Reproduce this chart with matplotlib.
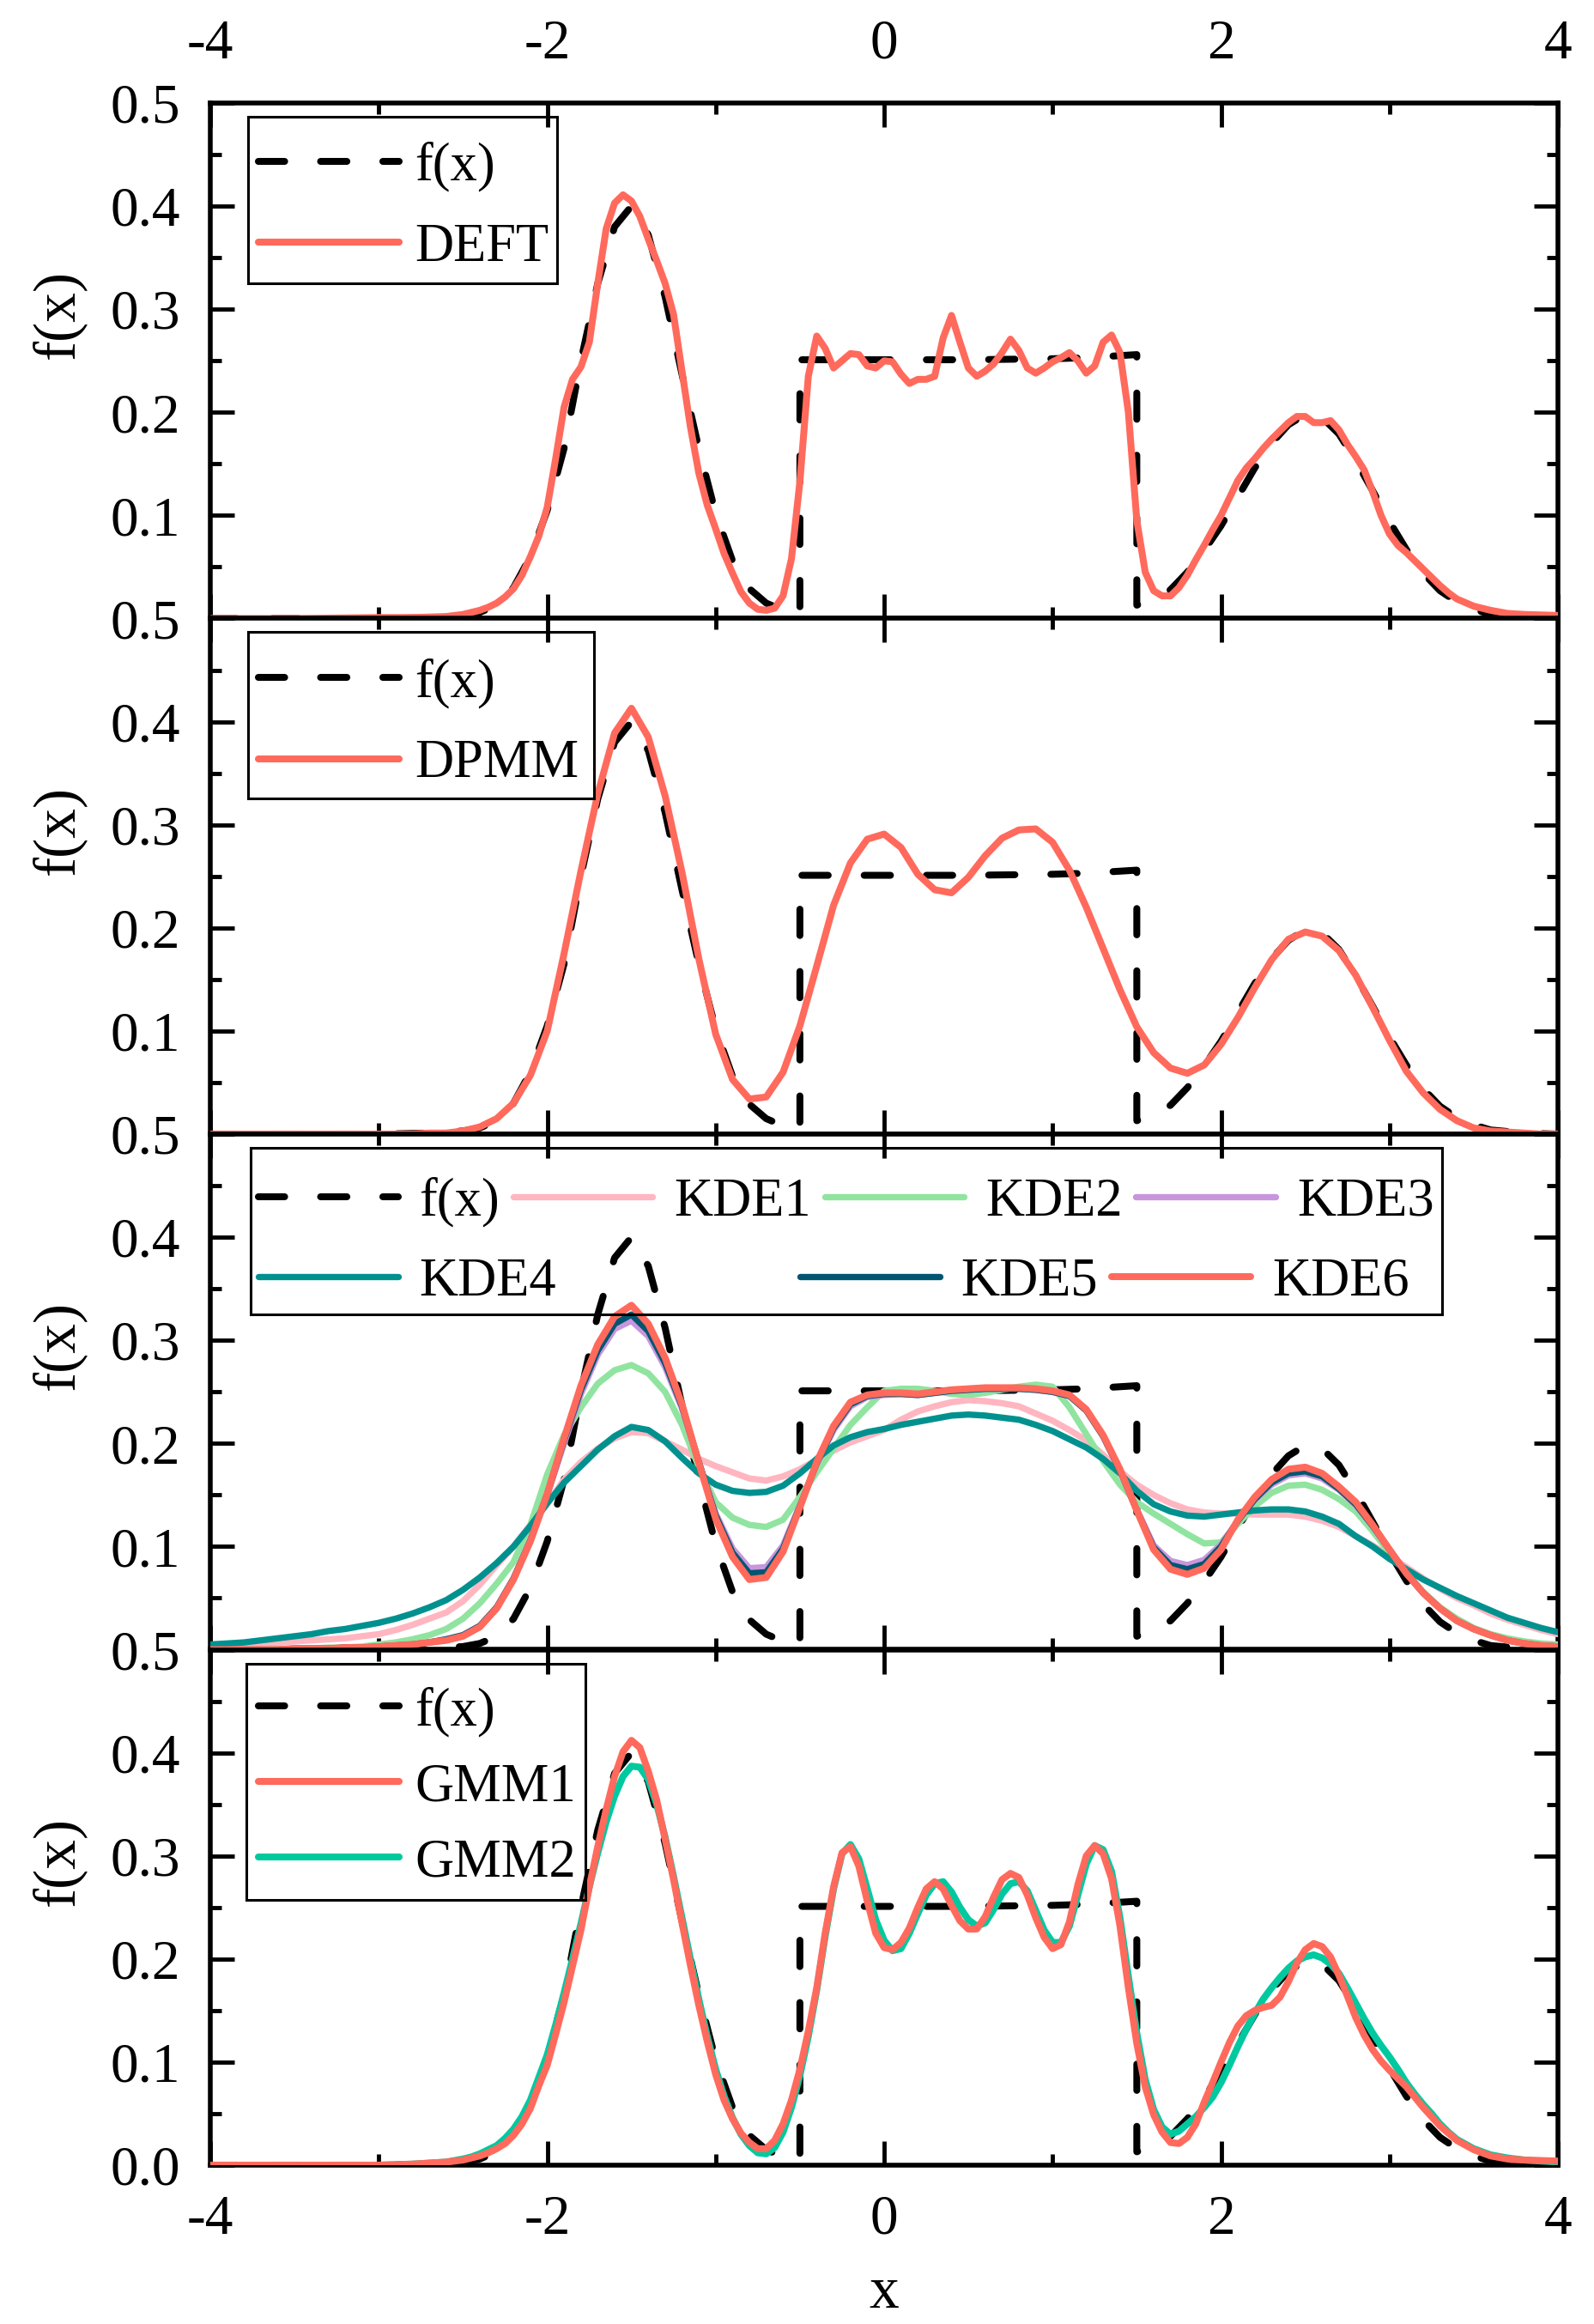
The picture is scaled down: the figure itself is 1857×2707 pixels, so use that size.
import numpy as np
import matplotlib
matplotlib.use('Agg')
import matplotlib.pyplot as plt
from matplotlib.patches import Rectangle

plt.rcParams['font.family'] = ['Liberation Serif', 'DejaVu Serif']
plt.rcParams['axes.unicode_minus'] = False

# ---------------- data ----------------
# true density f(x)
F_X = [-4.0, -3.0, -2.7, -2.5, -2.4, -2.3, -2.2, -2.1, -2.0, -1.9, -1.8, -1.7, -1.6, -1.5,
       -1.4, -1.3, -1.2, -1.1, -1.0, -0.9, -0.8, -0.7, -0.6, -0.5, -0.5, 0.0, 0.5, 1.0, 1.2,
       1.4, 1.5, 1.5, 1.6, 1.7, 1.8, 1.9, 2.0, 2.1, 2.2, 2.3, 2.4, 2.5, 2.6, 2.7, 2.8, 2.9,
       3.0, 3.1, 3.2, 3.3, 3.4, 3.5, 3.6, 3.8, 4.0]
F_Y = [0.0, 0.0, 0.001, 0.003, 0.006, 0.013, 0.03, 0.06, 0.105, 0.165, 0.25, 0.325, 0.38, 0.40,
       0.372, 0.312, 0.237, 0.165, 0.102, 0.056, 0.029, 0.015, 0.008, 0.005, 0.251, 0.251, 0.251,
       0.252, 0.253, 0.255, 0.256, 0.013, 0.018, 0.028, 0.045, 0.066, 0.09, 0.118, 0.146, 0.17,
       0.188, 0.198, 0.195, 0.179, 0.153, 0.124, 0.094, 0.067, 0.044, 0.027, 0.016, 0.009, 0.004,
       0.001, 0.0]

# fine x grid (DEFT, GMM)
FINE_X = [-4.0, -3.5, -3.0, -2.8, -2.6] + list(np.round(np.arange(-2.5, 3.401, 0.05), 2)) + [3.5, 3.6, 3.7, 3.8, 4.0]

DEFT_Y = [0.0, 0.0, 0.001, 0.001, 0.002,
          0.004, 0.006, 0.008, 0.011, 0.015, 0.021, 0.029, 0.042, 0.06, 0.08,
          0.108, 0.155, 0.205, 0.232, 0.244, 0.268, 0.325, 0.378, 0.403, 0.411,
          0.405, 0.39, 0.368, 0.347, 0.325, 0.295, 0.24, 0.186, 0.141, 0.11,
          0.087, 0.063, 0.044, 0.026, 0.015, 0.009, 0.008, 0.01, 0.022, 0.058,
          0.133, 0.235, 0.274, 0.262, 0.243, 0.25, 0.257, 0.256, 0.245, 0.243,
          0.25, 0.249, 0.237, 0.228, 0.232, 0.232, 0.235, 0.272, 0.294, 0.268,
          0.243, 0.235, 0.24, 0.247, 0.258, 0.271, 0.26, 0.243, 0.238, 0.243,
          0.249, 0.253, 0.258, 0.25, 0.238, 0.245, 0.268, 0.275, 0.258, 0.2,
          0.095, 0.045, 0.027, 0.022, 0.022, 0.03, 0.042, 0.057, 0.071, 0.086,
          0.1, 0.117, 0.134, 0.146, 0.155, 0.165, 0.174, 0.182, 0.19, 0.196,
          0.196, 0.19, 0.19, 0.192, 0.183, 0.169, 0.157, 0.144, 0.123, 0.1,
          0.082, 0.071, 0.064, 0.056, 0.048, 0.04, 0.032, 0.025, 0.019,
          0.012, 0.008, 0.005, 0.004, 0.003]

GMM1_Y = [0.0, 0.0, 0.0, 0.001, 0.003,
          0.005, 0.007, 0.009, 0.012, 0.016, 0.021, 0.029, 0.04, 0.055, 0.077,
          0.097, 0.127, 0.158, 0.193, 0.228, 0.27, 0.309, 0.345, 0.377, 0.401,
          0.412, 0.405, 0.382, 0.354, 0.316, 0.277, 0.235, 0.194, 0.155, 0.12,
          0.088, 0.063, 0.045, 0.031, 0.022, 0.016, 0.016, 0.024, 0.04, 0.063,
          0.093, 0.13, 0.172, 0.225, 0.27, 0.303, 0.309, 0.29, 0.256, 0.225,
          0.211, 0.209, 0.216, 0.23, 0.25, 0.268, 0.275, 0.268, 0.252, 0.237,
          0.229, 0.229, 0.241, 0.26, 0.277, 0.283, 0.279, 0.262, 0.24, 0.221,
          0.21, 0.214, 0.236, 0.272, 0.3, 0.31, 0.302, 0.278, 0.232, 0.172,
          0.118, 0.076, 0.049, 0.032, 0.022, 0.021, 0.027, 0.04, 0.061, 0.08,
          0.1, 0.119, 0.135, 0.145, 0.15, 0.153, 0.155, 0.163, 0.178, 0.196,
          0.209, 0.215, 0.212, 0.202, 0.184, 0.164, 0.143, 0.126, 0.112, 0.101,
          0.092, 0.084, 0.076, 0.066, 0.056, 0.047, 0.038, 0.031, 0.024,
          0.015, 0.009, 0.006, 0.005, 0.004]

GMM2_Y = [0.0, 0.0, 0.0, 0.001, 0.003,
          0.006, 0.008, 0.011, 0.015, 0.019, 0.026, 0.035, 0.047, 0.063, 0.085,
          0.107, 0.136, 0.167, 0.2, 0.234, 0.27, 0.303, 0.333, 0.358, 0.377,
          0.387, 0.386, 0.374, 0.35, 0.318, 0.28, 0.24, 0.2, 0.161, 0.125,
          0.093, 0.067, 0.046, 0.03, 0.019, 0.012, 0.011, 0.017, 0.032, 0.056,
          0.087, 0.125, 0.17, 0.222, 0.268, 0.302, 0.311, 0.297, 0.268, 0.238,
          0.218, 0.208, 0.21, 0.225, 0.244, 0.262, 0.273, 0.275, 0.265, 0.25,
          0.238, 0.232, 0.235, 0.248, 0.263, 0.273, 0.275, 0.266, 0.247, 0.228,
          0.216, 0.216, 0.232, 0.262, 0.292, 0.31, 0.306, 0.285, 0.24, 0.183,
          0.128, 0.083, 0.054, 0.037, 0.03, 0.033, 0.04, 0.047, 0.056, 0.066,
          0.08, 0.097, 0.115, 0.132, 0.147, 0.161, 0.172, 0.182, 0.191, 0.198,
          0.202, 0.204, 0.201, 0.195, 0.186, 0.172, 0.157, 0.142, 0.128, 0.116,
          0.105, 0.093, 0.08, 0.069, 0.059, 0.05, 0.04, 0.032, 0.025,
          0.016, 0.01, 0.007, 0.005, 0.003]

# coarse x grid (DPMM, KDE): -4.0 ... 4.0 in steps of 0.1
GRID_X = list(np.round(np.arange(-4.0, 4.001, 0.1), 1))

DPMM_Y = [0.0, 0.0, 0.0, 0.0, 0.0, 0.0, 0.0, 0.0, 0.0, 0.0, 0.0, 0.0,
          0.0, 0.001, 0.001, 0.003, 0.007, 0.015, 0.03, 0.057, 0.1, 0.175,
          0.255, 0.33, 0.389, 0.413, 0.385, 0.328, 0.254, 0.17, 0.097, 0.053,
          0.034, 0.036, 0.06, 0.105, 0.163, 0.222, 0.263, 0.286, 0.291, 0.278,
          0.252, 0.237, 0.234, 0.249, 0.27, 0.287, 0.295, 0.296, 0.283, 0.256,
          0.22, 0.18, 0.14, 0.104, 0.079, 0.064, 0.059, 0.067, 0.087, 0.113,
          0.142, 0.169, 0.189, 0.196, 0.192, 0.178, 0.154, 0.123, 0.091, 0.061,
          0.04, 0.024, 0.013, 0.006, 0.003, 0.002, 0.001, 0.0, 0.0]

KDE1_Y = [0.003, 0.004, 0.005, 0.006, 0.007, 0.008, 0.009, 0.01, 0.011, 0.013, 0.015, 0.019,
          0.024, 0.03, 0.036, 0.047, 0.063, 0.082, 0.1, 0.121, 0.141, 0.165,
          0.182, 0.195, 0.205, 0.211, 0.21, 0.202, 0.194, 0.185, 0.178, 0.172,
          0.166, 0.164, 0.168, 0.175, 0.184, 0.193, 0.201, 0.207, 0.213, 0.223,
          0.231, 0.236, 0.24, 0.242, 0.241, 0.239, 0.236, 0.229, 0.222, 0.213,
          0.203, 0.189, 0.173, 0.16, 0.15, 0.142, 0.136, 0.133, 0.132, 0.132,
          0.131, 0.131, 0.131, 0.129, 0.125, 0.119, 0.11, 0.101, 0.091, 0.08,
          0.069, 0.059, 0.05, 0.043, 0.035, 0.029, 0.024, 0.019, 0.015]

KDE2_Y = [0.0, 0.0, 0.0, 0.0, 0.001, 0.001, 0.001, 0.002, 0.002, 0.003, 0.005, 0.007,
          0.01, 0.014, 0.02, 0.03, 0.045, 0.064, 0.085, 0.121, 0.17, 0.208,
          0.235, 0.258, 0.271, 0.276, 0.268, 0.25, 0.218, 0.177, 0.143, 0.128,
          0.121, 0.119, 0.126, 0.148, 0.172, 0.195, 0.218, 0.235, 0.251, 0.253,
          0.253, 0.251, 0.248, 0.247, 0.249, 0.252, 0.255, 0.257, 0.255, 0.235,
          0.209, 0.183, 0.16, 0.143, 0.132, 0.122, 0.112, 0.103, 0.104, 0.122,
          0.139, 0.152, 0.159, 0.16, 0.155, 0.146, 0.134, 0.115, 0.094, 0.075,
          0.056, 0.041, 0.03, 0.021, 0.015, 0.011, 0.008, 0.006, 0.005]

KDE3_Y = [0.0, 0.0, 0.0, 0.0, 0.0, 0.001, 0.001, 0.001, 0.002, 0.002, 0.003, 0.004,
          0.005, 0.007, 0.01, 0.014, 0.023, 0.041, 0.069, 0.106, 0.15, 0.2,
          0.248, 0.286, 0.311, 0.319, 0.304, 0.274, 0.234, 0.182, 0.132, 0.098,
          0.079, 0.08, 0.101, 0.14, 0.18, 0.213, 0.236, 0.245, 0.247, 0.248,
          0.247, 0.249, 0.251, 0.252, 0.253, 0.253, 0.253, 0.252, 0.25, 0.246,
          0.232, 0.207, 0.174, 0.136, 0.101, 0.086, 0.082, 0.087, 0.102, 0.125,
          0.145, 0.16, 0.169, 0.171, 0.166, 0.155, 0.14, 0.12, 0.097, 0.074,
          0.055, 0.04, 0.028, 0.02, 0.014, 0.009, 0.006, 0.004, 0.003]

KDE4_Y = [0.005, 0.006, 0.007, 0.009, 0.011, 0.013, 0.015, 0.018, 0.02, 0.023, 0.026, 0.03,
          0.035, 0.041, 0.048, 0.058, 0.07, 0.084, 0.1, 0.12, 0.142, 0.162,
          0.178, 0.194, 0.207, 0.216, 0.213, 0.202, 0.186, 0.171, 0.16, 0.154,
          0.152, 0.153, 0.159, 0.171, 0.185, 0.198, 0.206, 0.211, 0.214, 0.218,
          0.221, 0.224, 0.227, 0.228, 0.227, 0.225, 0.223, 0.218, 0.212, 0.204,
          0.196, 0.185, 0.171, 0.154, 0.141, 0.134, 0.13, 0.129, 0.131, 0.133,
          0.135, 0.136, 0.136, 0.134, 0.129, 0.122, 0.11, 0.1, 0.088, 0.078,
          0.068, 0.06, 0.052, 0.045, 0.038, 0.031, 0.026, 0.021, 0.017]

KDE5_Y = [0.0, 0.0, 0.0, 0.0, 0.0, 0.001, 0.001, 0.001, 0.002, 0.002, 0.003, 0.004,
          0.005, 0.007, 0.01, 0.014, 0.023, 0.041, 0.069, 0.106, 0.151, 0.203,
          0.252, 0.29, 0.316, 0.325, 0.309, 0.278, 0.236, 0.182, 0.13, 0.094,
          0.074, 0.075, 0.098, 0.139, 0.181, 0.215, 0.238, 0.246, 0.248, 0.248,
          0.247, 0.249, 0.251, 0.252, 0.253, 0.253, 0.253, 0.252, 0.25, 0.246,
          0.232, 0.207, 0.174, 0.135, 0.099, 0.082, 0.078, 0.083, 0.1, 0.125,
          0.146, 0.162, 0.171, 0.173, 0.168, 0.156, 0.141, 0.12, 0.097, 0.074,
          0.055, 0.04, 0.028, 0.02, 0.014, 0.009, 0.006, 0.004, 0.003]

KDE6_Y = [0.0, 0.0, 0.0, 0.0, 0.0, 0.001, 0.001, 0.001, 0.002, 0.002, 0.003, 0.004,
          0.005, 0.007, 0.009, 0.013, 0.022, 0.04, 0.068, 0.105, 0.151, 0.205,
          0.256, 0.296, 0.323, 0.334, 0.316, 0.283, 0.238, 0.181, 0.127, 0.09,
          0.068, 0.07, 0.095, 0.138, 0.182, 0.217, 0.24, 0.247, 0.249, 0.249,
          0.248, 0.25, 0.252, 0.253, 0.254, 0.254, 0.254, 0.253, 0.251, 0.247,
          0.233, 0.208, 0.175, 0.135, 0.097, 0.078, 0.073, 0.079, 0.097, 0.126,
          0.148, 0.165, 0.175, 0.177, 0.171, 0.158, 0.143, 0.121, 0.097, 0.074,
          0.055, 0.04, 0.028, 0.02, 0.014, 0.009, 0.006, 0.004, 0.003]

X_TICKS = [-4, -2, 0, 2, 4]
X_LABELS = ['-4', '-2', '0', '2', '4']
Y_TICKS = [0.0, 0.1, 0.2, 0.3, 0.4, 0.5]
Y_LABELS_TOP = ['', '0.1', '0.2', '0.3', '0.4', '0.5']
Y_LABELS_BOTTOM = ['0.0', '0.1', '0.2', '0.3', '0.4', '0.5']

# ---------------- style ----------------
RED = '#FF6A5C'
PINK = '#FFB6C1'
LGREEN = '#90E4A0'
PURPLE = '#C896DC'
TEAL = '#00918F'
NAVY = '#005670'
MINT = '#00C9A0'

LW = 5.8
LW_KDE = 5.3
TICK_FS = 47
LEG_FS = 45
LAB_FS = 50

fig = plt.figure(figsize=(18.57, 27.07), dpi=100)
W, H = 1857.0, 2707.0
left = 245 / W
width = 1570 / W
ph = 600.5 / H
top0 = 1 - 120 / H
axes = [fig.add_axes([left, top0 - (i + 1) * ph, width, ph]) for i in range(4)]


def style_axis(ax, idx):
    ax.set_xlim(-4, 4)
    ax.set_ylim(0, 0.5)
    ax.set_xticks(X_TICKS)
    ax.set_xticks([-3, -1, 1, 3], minor=True)
    ax.set_yticks(Y_TICKS)
    ax.set_yticks([0.05, 0.15, 0.25, 0.35, 0.45], minor=True)
    ax.set_yticklabels(Y_LABELS_BOTTOM if idx == 3 else Y_LABELS_TOP)
    ax.set_xticklabels(X_LABELS)
    ax.tick_params(which='both', direction='in', top=True, right=True,
                   width=3.5, color='black')
    ax.tick_params(which='major', length=20)
    ax.tick_params(which='minor', length=9.5)
    ax.tick_params(axis='y', labelsize=TICK_FS, pad=25)
    ax.tick_params(axis='x', labelsize=TICK_FS)
    if idx == 0:
        ax.tick_params(axis='x', labeltop=True, labelbottom=False, pad=27.5)
    elif idx == 3:
        ax.tick_params(axis='x', labeltop=False, labelbottom=True, pad=24.5)
    else:
        ax.tick_params(axis='x', labeltop=False, labelbottom=False)
    for sp in ax.spines.values():
        sp.set_linewidth(4.0)
        sp.set_color('black')
    ax.set_ylabel('f(x)', fontsize=LAB_FS)
    ax.yaxis.set_label_coords(-0.0925, 0.59)


def plot_f(ax):
    ln, = ax.plot(F_X, F_Y, color='black', lw=LW, linestyle=(0, (3.8, 5.2)),
                  dash_capstyle='round', zorder=2)
    return ln


def curve(ax, x, y, color, lw, z=3):
    ln, = ax.plot(x, y, color=color, lw=lw, solid_capstyle='round',
                  solid_joinstyle='round', zorder=z)
    return ln


def frame(ax, x0, y0, x1, y1):
    ax.add_patch(Rectangle((x0, y0), x1 - x0, y1 - y0, transform=ax.transAxes,
                           fill=False, edgecolor='black', lw=2.2, zorder=5, clip_on=False))


def simple_legend(ax, handles, labels, spacing, yc, box):
    ax.legend(handles, labels, loc='center left', bbox_to_anchor=(0.0357, yc),
              borderaxespad=0, borderpad=0, fontsize=LEG_FS, frameon=False,
              labelspacing=spacing, handlelength=2.62, handletextpad=0.3)
    frame(ax, *box)


# panel 1: DEFT
ax = axes[0]
style_axis(ax, 0)
lf = plot_f(ax)
l1 = curve(ax, FINE_X, DEFT_Y, RED, LW)
simple_legend(ax, [lf, l1], ['f(x)', 'DEFT'], 0.58, 0.798, (0.028, 0.650, 0.2575, 0.9734))

# panel 2: DPMM
ax = axes[1]
style_axis(ax, 1)
lf = plot_f(ax)
l1 = curve(ax, GRID_X, DPMM_Y, RED, LW)
simple_legend(ax, [lf, l1], ['f(x)', 'DPMM'], 0.58, 0.796, (0.028, 0.651, 0.2845, 0.974))

# panel 3: KDE
ax = axes[2]
style_axis(ax, 2)
lf = plot_f(ax)
k1 = curve(ax, GRID_X, KDE1_Y, PINK, LW_KDE)
k2 = curve(ax, GRID_X, KDE2_Y, LGREEN, LW_KDE)
k3 = curve(ax, GRID_X, KDE3_Y, PURPLE, LW_KDE)
k4 = curve(ax, GRID_X, KDE4_Y, TEAL, LW_KDE)
k5 = curve(ax, GRID_X, KDE5_Y, NAVY, LW_KDE)
k6 = curve(ax, GRID_X, KDE6_Y, RED, LW)

common = dict(fontsize=LEG_FS, frameon=False, borderpad=0, borderaxespad=0,
              handlelength=2.6, handletextpad=0.4, columnspacing=0.25, loc='center left')
legA = ax.legend([lf, k1, k2, k3], ['f(x)', 'KDE1', 'KDE2', 'KDE3'], ncol=4,
                 bbox_to_anchor=(0.0357, 0.868), **common)
ax.add_artist(legA)
legB = ax.legend([k4], ['KDE4'], ncol=1, bbox_to_anchor=(0.0357, 0.712), **common)
ax.add_artist(legB)
legC = ax.legend([k5, k6], ['KDE5', 'KDE6'], ncol=2, bbox_to_anchor=(0.4376, 0.712), **common)
frame(ax, 0.030, 0.65, 0.914, 0.973)

# panel 4: GMM
ax = axes[3]
style_axis(ax, 3)
lf = plot_f(ax)
g2 = curve(ax, FINE_X, GMM2_Y, MINT, LW, 3)
g1 = curve(ax, FINE_X, GMM1_Y, RED, LW, 4)
simple_legend(ax, [lf, g1, g2], ['f(x)', 'GMM1', 'GMM2'], 0.48, 0.733, (0.0268, 0.5146, 0.2785, 0.9725))
ax.set_xlabel('x', fontsize=LAB_FS)
ax.xaxis.set_label_coords(0.5, -0.195)

fig.savefig('out.png', dpi=100)
